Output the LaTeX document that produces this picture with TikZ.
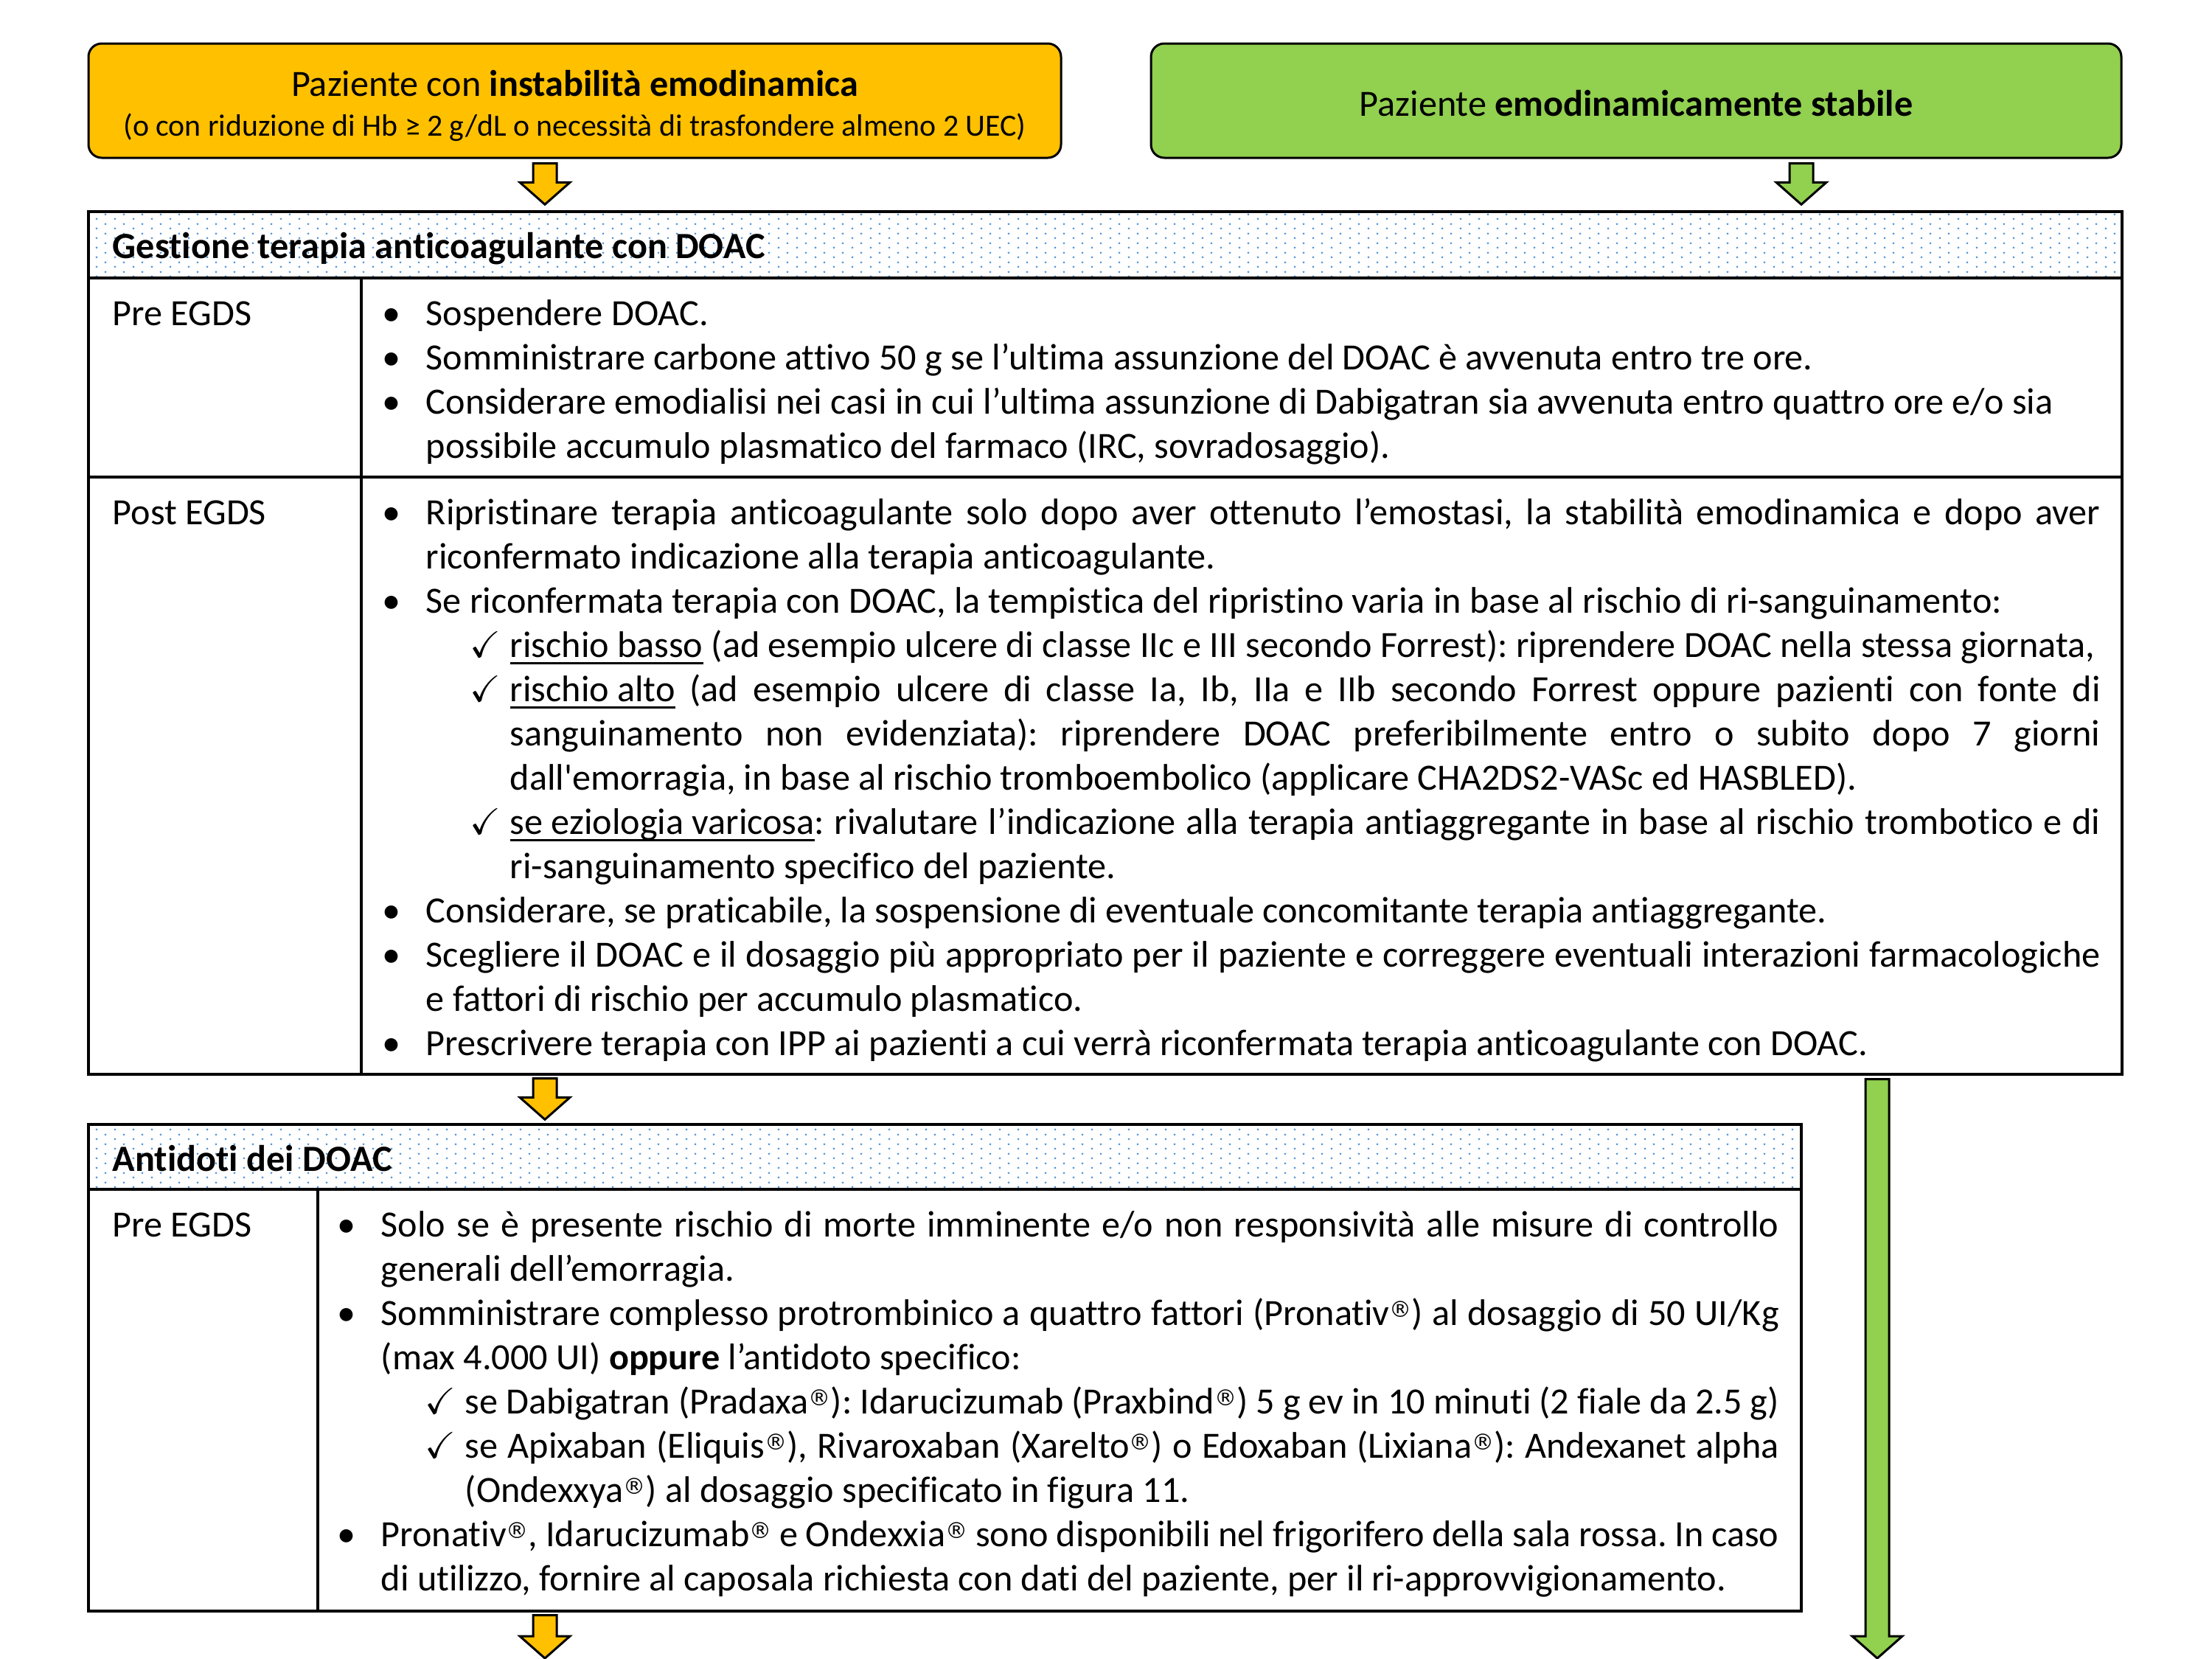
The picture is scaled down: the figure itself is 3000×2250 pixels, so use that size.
\documentclass[tikz,border=0pt]{standalone}
\usepackage{fontspec}
\setmainfont{Carlito}[Ligatures={NoCommon}]
\newfontfamily\dejavu{DejaVu Sans}
\usepackage{amssymb}
\usetikzlibrary{calc,fit,patterns}
\definecolor{giallo}{HTML}{FFC000}
\definecolor{verde}{HTML}{92D050}
\definecolor{puntiblu}{HTML}{4F94D8}

% fondo a puntini delle intestazioni
\pgfdeclarepatternformonly{puntini}{\pgfqpoint{0pt}{0pt}}{\pgfqpoint{6.25pt}{3.25pt}}{\pgfqpoint{6.25pt}{3.25pt}}{%
  \pgfpathcircle{\pgfqpoint{1.5625pt}{0.8125pt}}{0.4pt}%
  \pgfpathcircle{\pgfqpoint{4.6875pt}{2.4375pt}}{0.4pt}%
  \pgfusepath{fill}}

\newsavebox{\sottobox}
\newcommand{\sotto}[1]{\sbox{\sottobox}{#1}\rlap{\rule[-2.4pt]{\wd\sottobox}{0.7pt}}\usebox{\sottobox}}
\newcommand{\reg}{\raisebox{2.6pt}{\dejavu\fontsize{7.5}{7.5}\selectfont ®}}
\newcommand{\corpo}{\fontsize{12.55}{15}\selectfont\frenchspacing\hyphenpenalty=10000\exhyphenpenalty=10000\tolerance=9999}
\newcommand{\punto}{\hangindent=14pt\hangafter=1\makebox[14pt][l]{\hspace*{-0.8pt}\textbullet}}
\newcommand{\spunta}{\hangindent=42.5pt\hangafter=1\hspace*{29pt}\makebox[13.5pt][l]{$\checkmark$}}
\newcommand{\frecciona}[3]{% colore, partenza, punta
  \draw[freccia,fill=#1] ($(#2)+(-16,0)$) -- ($(#3)+(-16,-30)$) -- ($(#3)+(-34,-30)$) -- (#3)
    -- ($(#3)+(34,-30)$) -- ($(#3)+(16,-30)$) -- ($(#2)+(16,0)$) -- cycle;}

\begin{document}
\begin{tikzpicture}[x=0.25pt,y=-0.25pt,
    bordo/.style={line width=0.85pt},
    freccia/.style={line width=0.75pt,line join=miter},
    boxsup/.style={draw,line width=0.75pt,rounded corners=4.5pt,minimum height=38.75pt},
    etichetta/.style={font=\corpo,inner sep=0pt,anchor=base west},
    titolo/.style={font=\corpo\bfseries,inner sep=0pt,anchor=base west},
    testo/.style={font=\corpo,align=justify,inner sep=0pt,anchor=base west}]
  \useasboundingbox (0,0) rectangle (3000,2250);

  % riquadri iniziali
  \node[boxsup,fill=giallo,minimum width=329.75pt] (instabile) at (779.5,136.5) {};
  \node[align=center,font=\fontsize{10.45}{13.4}\selectfont] (instabileT) at ($(instabile.center)+(0,7)$)
    {{\fontsize{12.55}{13.4}\selectfont Paziente con \textbf{instabilità emodinamica}}\\
     (o con riduzione di Hb ≥ 2 g/dL o necessità di trasfondere almeno 2 UEC)};
  \node[boxsup,fill=verde,minimum width=329pt,text height=10.7pt,font=\fontsize{12.55}{15}\selectfont] (stabile) at (2219,136.5)
    {Paziente \textbf{emodinamicamente stabile}};

  % tabella gestione terapia
  \coordinate (t1a) at (120,287);
  \coordinate (t1b) at (2878,1457);
  \fill[pattern=puntini,pattern color=puntiblu] (120,287) rectangle (2878,377);
  \node[fit=(t1a)(t1b),inner sep=0pt,draw,bordo] (tab1) {};
  \draw[bordo] (120,377) -- (2878,377);
  \draw[bordo] (120,647) -- (2878,647);
  \draw[bordo] (490,377) -- (490,1457);
  \node[titolo] (tit1) at (152,350) {Gestione terapia anticoagulante con DOAC};
  \node[etichetta] (pre1) at (152,441) {Pre EGDS};
  \node[etichetta] (post1) at (152,711) {Post EGDS};
  \node[testo,text width=581.5pt] (txtpre1) at (521,441) {%
\punto Sospendere DOAC.\par
\punto Somministrare carbone attivo 50 g se l’ultima assunzione del DOAC è avvenuta entro tre ore.\par
\punto Considerare emodialisi nei casi in cui l’ultima assunzione di Dabigatran sia avvenuta entro quattro ore e/o sia\newline
possibile accumulo plasmatico del farmaco (IRC, sovradosaggio).\par};
  \node[testo,text width=581.75pt] (txtpost1) at (521,711) {%
\punto Ripristinare terapia anticoagulante solo dopo aver ottenuto l’emostasi, la stabilità emodinamica e dopo aver\linebreak
riconfermato indicazione alla terapia anticoagulante.\par
\punto Se riconfermata terapia con DOAC, la tempistica del ripristino varia in base al rischio di ri-sanguinamento:\par
\spunta\sotto{rischio basso} (ad esempio ulcere di classe IIc e III secondo Forrest): riprendere DOAC nella stessa giornata,\par
\spunta\sotto{rischio alto} (ad esempio ulcere di classe Ia, Ib, IIa e IIb secondo Forrest oppure pazienti con fonte di\linebreak
sanguinamento non evidenziata): riprendere DOAC preferibilmente entro o subito dopo 7 giorni\linebreak
dall\textquotesingle emorragia, in base al rischio tromboembolico (applicare CHA2DS2-VASc ed HASBLED).\par
\spunta\sotto{se eziologia varicosa}: rivalutare l’indicazione alla terapia antiaggregante in base al rischio trombotico e di\linebreak
ri-sanguinamento specifico del paziente.\par
\punto Considerare, se praticabile, la sospensione di eventuale concomitante terapia antiaggregante.\par
\punto Scegliere il DOAC e il dosaggio più appropriato per il paziente e correggere eventuali interazioni farmacologiche\linebreak
e fattori di rischio per accumulo plasmatico.\par
\punto Prescrivere terapia con IPP ai pazienti a cui verrà riconfermata terapia anticoagulante con DOAC.\par};

  % tabella antidoti
  \coordinate (t2a) at (120,1525);
  \coordinate (t2b) at (2443,2185);
  \fill[pattern=puntini,pattern color=puntiblu] (120,1525) rectangle (2443,1613);
  \node[fit=(t2a)(t2b),inner sep=0pt,draw,bordo] (tab2) {};
  \draw[bordo] (120,1613) -- (2443,1613);
  \draw[bordo] (431,1613) -- (431,2185);
  \node[titolo] (tit2) at (152,1588) {Antidoti dei DOAC};
  \node[etichetta] (pre2) at (152,1677) {Pre EGDS};
  \node[testo,text width=488pt] (txtpre2) at (460,1677) {%
\punto Solo se è presente rischio di morte imminente e/o non responsività alle misure di controllo\linebreak
generali dell’emorragia.\par
\punto Somministrare complesso protrombinico a quattro fattori (Pronativ\reg) al dosaggio di 50 UI/Kg\linebreak
(max 4.000 UI) \textbf{oppure} l’antidoto specifico:\par
\spunta se Dabigatran (Pradaxa\reg): Idarucizumab (Praxbind\reg) 5 g ev in 10 minuti (2 fiale da 2.5 g)\par
\spunta se Apixaban (Eliquis\reg), Rivaroxaban (Xarelto\reg) o Edoxaban (Lixiana\reg): Andexanet alpha\linebreak
(Ondexxya\reg) al dosaggio specificato in figura 11.\par
\punto Pronativ\reg, Idarucizumab\reg{} e Ondexxia\reg{} sono disponibili nel frigorifero della sala rossa. In caso\linebreak
di utilizzo, fornire al caposala richiesta con dati del paziente, per il ri-approvvigionamento.\par};

  % frecce
  \coordinate (colG) at (739,0);
  \coordinate (colV) at (2443,0);
  \coordinate (colL) at (2546,0);
  \coordinate (a1s) at ($(instabile.south -| colG)+(0,6)$);
  \coordinate (a1e) at ($(tab1.north -| colG)+(0,-8)$);
  \coordinate (a2s) at ($(stabile.south -| colV)+(0,6)$);
  \coordinate (a2e) at ($(tab1.north -| colV)+(0,-8)$);
  \coordinate (a3s) at ($(tab1.south -| colG)+(0,4)$);
  \coordinate (a3e) at ($(tab2.north -| colG)+(0,-5)$);
  \coordinate (a4s) at ($(tab1.south -| colL)+(0,5)$);
  \coordinate (a4e) at (2546,2249);
  \coordinate (a5s) at ($(tab2.south -| colG)+(0,4)$);
  \coordinate (a5e) at (739,2249);
  \frecciona{giallo}{a1s}{a1e}
  \frecciona{verde}{a2s}{a2e}
  \frecciona{giallo}{a3s}{a3e}
  \frecciona{verde}{a4s}{a4e}
  \frecciona{giallo}{a5s}{a5e}
\end{tikzpicture}
\end{document}
